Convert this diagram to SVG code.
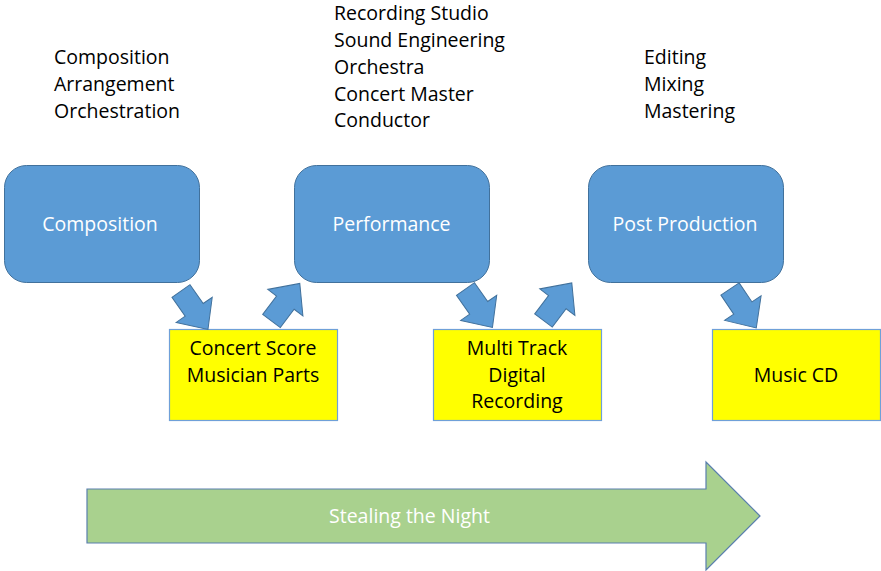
<svg xmlns="http://www.w3.org/2000/svg" width="881" height="571" viewBox="0 0 881 571">
  <style>
    text { font-family: "Open Sans", "Liberation Sans", sans-serif; font-size: 19.5px; }
    .note { fill: #000000; }
    .stage rect { fill: #5B9BD5; stroke: #41719C; stroke-width: 1; }
    .stage text { fill: #FFFFFF; text-anchor: middle; }
    .product rect { fill: #FFFF00; stroke: #6FA0D8; stroke-width: 1.2; }
    .product text { fill: #000000; text-anchor: middle; }
    .flow { fill: #5B9BD5; stroke: #41719C; stroke-width: 1; }
    .timeline path { fill: #A9D18E; stroke: #5A7FAE; stroke-width: 1.2; }
    .timeline text { fill: #FFFFFF; text-anchor: middle; }
  </style>
  <defs>
    <!-- block arrow pointing along +x, back edge at x=0 -->
    <path id="blockArrow" d="M0,-11 H23 V-22 L47,0 L23,22 V11 H0 Z"/>
  </defs>

  <rect width="881" height="571" fill="#FFFFFF"/>

  <!-- activity lists above each stage -->
  <g id="notes-composition" class="note">
    <text x="54" y="64">Composition</text>
    <text x="54" y="91">Arrangement</text>
    <text x="54" y="117.5">Orchestration</text>
  </g>
  <g id="notes-performance" class="note">
    <text x="334" y="20">Recording Studio</text>
    <text x="334" y="47">Sound Engineering</text>
    <text x="334" y="74">Orchestra</text>
    <text x="334" y="100.5">Concert Master</text>
    <text x="334" y="127">Conductor</text>
  </g>
  <g id="notes-post" class="note">
    <text x="644" y="64">Editing</text>
    <text x="644" y="91">Mixing</text>
    <text x="644" y="117.5">Mastering</text>
  </g>

  <!-- stages -->
  <g id="stage-composition" class="stage">
    <rect x="4.5" y="165.5" width="195" height="117" rx="22" ry="22"/>
    <text x="100" y="231">Composition</text>
  </g>
  <g id="stage-performance" class="stage">
    <rect x="294.5" y="165.5" width="195" height="117" rx="22" ry="22"/>
    <text x="391.5" y="231">Performance</text>
  </g>
  <g id="stage-post" class="stage">
    <rect x="588.5" y="165.5" width="195" height="117" rx="22" ry="22"/>
    <text x="685" y="231">Post Production</text>
  </g>

  <!-- deliverables -->
  <g id="product-score" class="product">
    <rect x="169.5" y="329.5" width="168" height="91"/>
    <text x="253" y="355">Concert Score</text>
    <text x="253" y="382">Musician Parts</text>
  </g>
  <g id="product-recording" class="product">
    <rect x="433.5" y="329.5" width="168" height="91"/>
    <text x="517" y="355">Multi Track</text>
    <text x="517" y="382">Digital</text>
    <text x="517" y="408">Recording</text>
  </g>
  <g id="product-cd" class="product">
    <rect x="712.5" y="329.5" width="168" height="91"/>
    <text x="796" y="382">Music CD</text>
  </g>

  <!-- connectors between stages and deliverables -->
  <g id="connectors">
    <use href="#blockArrow" class="flow" transform="translate(181,291) rotate(55)"/>
    <use href="#blockArrow" class="flow" transform="translate(271.5,321) rotate(-53)"/>
    <use href="#blockArrow" class="flow" transform="translate(465.5,289) rotate(55)"/>
    <use href="#blockArrow" class="flow" transform="translate(543.5,320.5) rotate(-53)"/>
    <use href="#blockArrow" class="flow" transform="translate(730,289) rotate(56)"/>
  </g>

  <!-- project timeline -->
  <g id="timeline" class="timeline">
    <path d="M87,489 H706 V462 L760,516 L706,570 V543 H87 Z"/>
    <text x="409.5" y="523">Stealing the Night</text>
  </g>
</svg>
